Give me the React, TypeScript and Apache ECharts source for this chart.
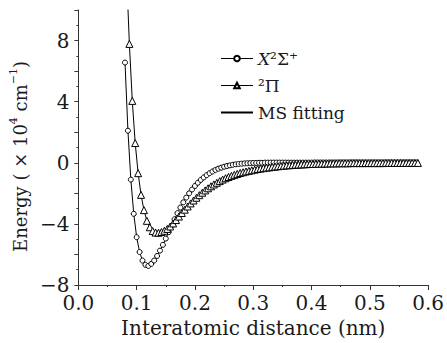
import React, { useEffect, useRef } from 'react';
import * as echarts from 'echarts';

// X²Σ⁺ state (circles): interatomic distance (nm) and energy (×10⁴ cm⁻¹)
const sigmaR = [0.080,0.085,0.090,0.095,0.100,0.105,0.110,0.115,0.120,0.125,0.130,0.135,0.140,0.145,0.150,0.155,0.160,0.165,0.170,0.175,0.180,0.185,0.190,0.195,0.200,0.205,0.210,0.215,0.220,0.225,0.230,0.235,0.240,0.245,0.250,0.255,0.260,0.265,0.270,0.275,0.280,0.285,0.290,0.295,0.300,0.305,0.310,0.315,0.320,0.325,0.330,0.335,0.340,0.345,0.350,0.355,0.360,0.365,0.370,0.375,0.380,0.385,0.390,0.395,0.400,0.405,0.410,0.415,0.420,0.425,0.430,0.435,0.440,0.445,0.450,0.455,0.460,0.465,0.470,0.475,0.480,0.485,0.490,0.495,0.500,0.505,0.510,0.515,0.520,0.525,0.530,0.535,0.540,0.545,0.550,0.555,0.560,0.565,0.570,0.575,0.580];
const sigmaE = [6.56,2.1,-1.1,-3.34,-4.87,-5.84,-6.4,-6.68,-6.75,-6.62,-6.4,-6.1,-5.75,-5.37,-4.96,-4.54,-4.12,-3.7,-3.3,-2.93,-2.59,-2.28,-2.0,-1.75,-1.52,-1.31,-1.12,-0.96,-0.81,-0.68,-0.57,-0.47,-0.39,-0.32,-0.26,-0.21,-0.17,-0.13,-0.1,-0.08,-0.06,-0.04,-0.03,-0.02,-0.01,-0.01,0,0,0.01,
  0.01,0.01,0.01,0.01,0.01,0.01,0.01,0.01,0.01,0.01,0.01,0.01,0.01,0.01,0.01,0.01,
  0.02,0.02,0.02,0.02,0.02,0.02,0.02,0.02,0.02,0.02,0.02,0.02,0.02,0.02,0.02,0.02,0.02,0.02,
  0.02,0.02,0.02,0.02,0.02,0.02,0.02,0.02,0.02,0.02,0.02,0.02,0.02,0.02,0.02,0.02,0.02,0.02];

// ²Π state (triangles)
const piR = [0.0875,0.0925,0.0975,0.1025,0.1075,0.1125,0.1175,0.1225,0.1275,0.1325,0.1375,0.1425,0.1475,0.1525,0.1575,0.1625,0.1675,0.1725,0.1775,0.1825,0.1875,0.1925,0.1975,0.2025,0.2075,0.2125,0.2175,0.2225,0.2275,0.2325,0.2375,0.2425,0.2475,0.2525,0.2575,0.2625,0.2675,0.2725,0.2775,0.2825,0.2875,0.2925,0.2975,0.3025,0.3075,0.3125,0.3175,0.3225,0.3275,0.3325,0.3375,0.3425,0.3475,0.3525,0.3575,0.3625,0.3675,0.3725,0.3775,0.3825,0.3875,0.3925,0.3975,0.4025,0.4075,0.4125,0.4175,0.4225,0.4275,0.4325,0.4375,0.4425,0.4475,0.4525,0.4575,0.4625,0.4675,0.4725,0.4775,0.4825,0.4875,0.4925,0.4975,0.5025,0.5075,0.5125,0.5175,0.5225,0.5275,0.5325,0.5375,0.5425,0.5475,0.5525,0.5575,0.5625,0.5675,0.5725,0.5775,0.5825];
const piE = [7.78,4.05,1.29,-0.68,-2.1,-3.1,-3.8,-4.22,-4.47,-4.57,-4.58,-4.53,-4.45,-4.33,-4.17,-3.97,-3.75,-3.52,-3.29,-3.07,-2.86,-2.66,-2.47,-2.29,-2.12,-1.96,-1.81,-1.67,-1.54,-1.42,-1.31,-1.2,-1.1,-1.01,-0.93,-0.86,-0.79,-0.73,-0.67,-0.62,-0.57,-0.53,-0.49,-0.45,-0.41,-0.38,-0.35,-0.32,-0.3,-0.27,-0.25,-0.23,-0.21,-0.19,-0.17,-0.16,-0.14,-0.13,-0.12,-0.11,-0.1,-0.09,-0.08,-0.08,-0.07,-0.06,-0.06,-0.05,-0.05,-0.04,-0.04,-0.04,-0.03,-0.03,-0.03,-0.03,
  -0.02,-0.02,-0.02,-0.02,-0.02,-0.02,-0.02,-0.02,-0.02,-0.02,-0.02,-0.02,
  -0.01,-0.01,-0.01,-0.01,-0.01,-0.01,-0.01,-0.01,-0.01,-0.01,-0.01,-0.01];

// MS fitting curve of ²Π continues above the plot top
const piFitHeadR = [0.0845];
const piFitHeadE = [10.6];

const seriesNames = ['X²Σ⁺', '²Π', 'MS fitting'];
const yLabelStep = 4;

const FONT = '"DejaVu Serif", serif';
const TXT = '#1a1a1a';

export default function App() {
  const ref = useRef<HTMLDivElement>(null);
  useEffect(() => {
    const chart = echarts.init(ref.current!, null, { renderer: 'svg' });
    const sigmaData = sigmaR.map((r, i) => [r, sigmaE[i]]);
    const piData = piR.map((r, i) => [r, piE[i]]);
    const piFit = [...piFitHeadR.map((r, i) => [r, piFitHeadE[i]]), ...piData];
    const markerStyle = { color: '#fff', borderColor: '#000', borderWidth: 1 };
    chart.setOption({
      animation: false,
      grid: { left: 74, right: 15, top: 10, bottom: 57 },
      xAxis: {
        type: 'value', min: 0, max: 0.6, interval: 0.1,
        name: 'Interatomic distance (nm)', nameLocation: 'middle', nameGap: 33,
        nameTextStyle: { fontFamily: FONT, fontSize: 20, color: TXT },
        axisLine: { onZero: false, lineStyle: { color: '#333', width: 1 } },
        axisTick: { show: true, length: 5, lineStyle: { color: '#333' } },
        minorTick: { show: true, splitNumber: 2, length: 2, lineStyle: { color: '#333' } },
        splitLine: { show: false },
        axisLabel: { fontFamily: FONT, fontSize: 20, color: TXT, margin: 8, formatter: (v: number) => v.toFixed(1) },
      },
      yAxis: {
        type: 'value', min: -8, max: 10, interval: 2,
        name: '{a|Energy ( × 10}{s|4}{a| cm}{s|−1}{a|)}', nameLocation: 'middle', nameGap: 37, nameRotate: 90,
        nameTextStyle: {
          fontFamily: FONT, fontSize: 18, color: TXT, padding: [0, 18, 0, 0],
          rich: {
            a: { fontFamily: FONT, fontSize: 18, color: TXT, lineHeight: 21, verticalAlign: 'bottom' },
            s: { fontFamily: FONT, fontSize: 11, color: TXT, lineHeight: 21, verticalAlign: 'top' },
          },
        },
        axisLine: { show: true, onZero: false, lineStyle: { color: '#333', width: 1 } },
        axisTick: { show: true, interval: 0, length: 4, lineStyle: { color: '#333' } },
        minorTick: { show: true, splitNumber: 2, length: 2, lineStyle: { color: '#333' } },
        splitLine: { show: false },
        axisLabel: {
          fontFamily: FONT, fontSize: 20, color: TXT, margin: 9,
          formatter: (v: number) => (v % yLabelStep !== 0 ? '' : v < 0 ? '−' + Math.abs(v) : String(v)),
        },
      },
      legend: {
        orient: 'vertical', left: 215, top: 44,
        itemWidth: 32, itemHeight: 7, itemGap: 8,
        textStyle: {
          fontFamily: FONT, fontSize: 17, color: TXT, lineHeight: 19,
          rich: { it: { fontStyle: 'italic', fontFamily: FONT, fontSize: 17, color: TXT } },
        },
        formatter: (n: string) => (n === seriesNames[0] ? '{it|X}²Σ⁺' : n),
        data: [
          { name: seriesNames[0], lineStyle: { width: 1, color: '#000', opacity: 1 } },
          { name: seriesNames[1], lineStyle: { width: 1, color: '#000', opacity: 1 } },
          { name: seriesNames[2], itemStyle: { opacity: 0 } },
        ],
      },
      series: [
        { name: seriesNames[2], type: 'line', data: sigmaData, symbol: 'none', lineStyle: { color: '#000', width: 1 }, itemStyle: { color: '#000' }, z: 2, silent: true },
        { name: seriesNames[2], type: 'line', data: piFit, symbol: 'none', lineStyle: { color: '#000', width: 1 }, itemStyle: { color: '#000' }, z: 2, silent: true },
        { name: seriesNames[0], type: 'line', data: sigmaData, symbol: 'circle', symbolSize: 5, showSymbol: true, showAllSymbol: true, lineStyle: { width: 0, opacity: 0 }, itemStyle: markerStyle, z: 3, silent: true },
        { name: seriesNames[1], type: 'line', data: piData, symbol: 'triangle', symbolSize: 7, showSymbol: true, showAllSymbol: true, lineStyle: { width: 0, opacity: 0 }, itemStyle: markerStyle, z: 4, silent: true },
      ],
    });
    return () => chart.dispose();
  }, []);
  return <div ref={ref} style={{ position: 'fixed', left: 0, top: 0, width: 447, height: 343, background: '#fff' }} />;
}
